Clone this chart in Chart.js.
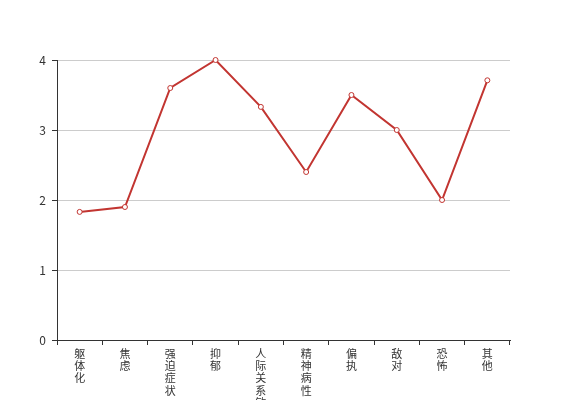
<!DOCTYPE html>
<html>
<head>
<meta charset="utf-8">
<script src="https://cdn.jsdelivr.net/npm/chart.js@4"></script>
<style>
  html, body { margin: 0; padding: 0; background: #fff; }
  #wrap { width: 567px; height: 400px; }
</style>
</head>
<body>
<div id="wrap"><canvas id="chart"></canvas></div>
<script>
const categories = ['躯体化', '焦虑', '强迫症状', '抑郁', '人际关系敏感', '精神病性', '偏执', '敌对', '恐怖', '其他'];
const scores = [1.83, 1.9, 3.6, 4.0, 3.33, 2.4, 3.5, 3.0, 2.0, 3.71];
const yTicks = [0, 1, 2, 3, 4];

const ctx = document.querySelector('#chart');
const family = "'Noto Sans CJK SC', 'DejaVu Sans', sans-serif";

new Chart(ctx, {
    type: 'line',
    data: {
        // stack each label vertically, one character per line
        labels: categories.map(c => c.split('')),
        datasets: [{
            data: scores,
            borderColor: '#c23531',
            borderWidth: 2,
            pointRadius: 2.5,
            pointBorderWidth: 1,
            pointBackgroundColor: '#fff',
            pointBorderColor: '#c23531',
            tension: 0,
            clip: false
        }]
    },
    options: {
        responsive: true,
        maintainAspectRatio: false,
        animation: false,
        layout: { padding: { top: 60, right: 57, bottom: 0, left: 10 } },
        plugins: { legend: { display: false }, tooltip: { enabled: false } },
        scales: {
            x: {
                offset: true,
                grid: { offset: true, drawOnChartArea: false, tickLength: 5, color: '#333', tickColor: '#333' },
                border: { display: true, color: '#333' },
                ticks: { font: { family: family, size: 11, lineHeight: 1.1 }, color: '#333', maxRotation: 0, autoSkip: false, padding: 3 },
                afterFit: s => { s.height = 60; }
            },
            y: {
                min: 0,
                max: 4,
                afterBuildTicks: s => { s.ticks = yTicks.map(v => ({ value: v })); },
                grid: { color: '#ccc', tickColor: '#333', tickLength: 5 },
                border: { display: true, color: '#333' },
                ticks: { font: { family: family, size: 12 }, color: '#333', padding: 6 },
                afterFit: s => { s.width = 47; }
            }
        }
    }
});
</script>
</body>
</html>
